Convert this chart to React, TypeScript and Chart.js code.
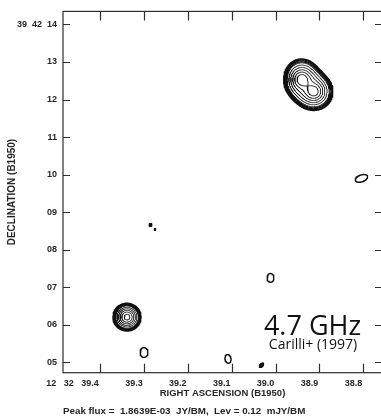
import { useEffect, useRef } from "react";
import { Chart, registerables } from "chart.js";

Chart.register(...registerables);

// ---- Axes (RA in seconds of 12h32m, Dec in arcsec of +39d42') ----
const raLeft = 39.4843;
const raRight = 38.7576;
const decTop = 14.348;
const decBottom = 4.725;
const decZeroDeg = 39.7;

const raTicks = [39.4, 39.3, 39.2, 39.1, 39.0, 38.9, 38.8];
const raTickLabels = ["12   32   39.4              ", "39.3", "39.2", "39.1", "39.0", "38.9", "38.8"];
const decTicks = [5, 6, 7, 8, 9, 10, 11, 12, 13, 14];
const decTickLabels = ["05", "06", "07", "08", "09", "10", "11", "12", "13", "39  42  14"];

const xTitle = "RIGHT ASCENSION (B1950)";
const yTitle = "DECLINATION (B1950)";
const footerText = "Peak flux =  1.8639E-03  JY/BM,  Lev = 0.12  mJY/BM";
const bandLabel = "4.7 GHz";
const citation = "Carilli+ (1997)";

// ---- Contour levels (multiples of 0.12 mJy/beam) ----
const baseLevel = 0.12;
const levelMultipliers = [1, 1.2, 1.41, 1.7, 2, 2.83, 4, 5.66, 8, 11.31];
const levelLineWidths = [1.4, 1.3, 1.2, 1.1, 1, 0.9, 0.9, 0.9, 0.9, 0.9];

// ---- Gaussian source components ----
const compRA = [38.9405, 38.9405, 38.9125, 38.9125, 39.3385, 39.3385, 38.8044, 39.0116, 39.1084, 39.2998, 39.285, 39.2747, 39.0321];
const compDec = [12.54, 12.54, 12.21, 12.21, 6.205, 6.205, 9.9, 7.25, 5.092, 5.262, 8.66, 8.54, 4.922];
const compPeak = [0.9, 0.86, 0.85, 0.8, 0.85, 0.75, 0.14, 0.14, 0.14, 0.14, 0.3, 0.14, 0.3];
const compMaj = [0.278, 0.64, 0.278, 0.6, 0.25, 0.452, 0.72, 0.49, 0.49, 0.55, 0.062, 0.09, 0.124];
const compMin = [0.278, 0.56, 0.278, 0.6, 0.25, 0.452, 0.385, 0.385, 0.34, 0.44, 0.062, 0.09, 0.062];
const compPA = [0, 0, 0, 0, 0, 0, -70, 0, 10, 0, 0, 0, -45];

const gridCols = 640;
const gridRows = 736;

const textColor = "#262626";
const frameColor = "#2e2e2e";
const contourColor = "#111111";

type Grid = { f: Float64Array; xs: Float64Array; ys: Float64Array; nx: number; ny: number };

function buildField(): Grid {
  const nx = gridCols, ny = gridRows;
  const xs = new Float64Array(nx);
  const ys = new Float64Array(ny);
  for (let i = 0; i < nx; i++) xs[i] = raRight + ((raLeft - raRight) * i) / (nx - 1);
  for (let j = 0; j < ny; j++) ys[j] = decBottom + ((decTop - decBottom) * j) / (ny - 1);
  const f = new Float64Array(nx * ny);
  const arcPerSec = 15 * Math.cos((decZeroDeg * Math.PI) / 180);
  for (let k = 0; k < compRA.length; k++) {
    const sMaj = compMaj[k] / 2.3548, sMin = compMin[k] / 2.3548;
    const th = (compPA[k] * Math.PI) / 180;
    const st = Math.sin(th), ct = Math.cos(th);
    const reach = 5 * Math.max(sMaj, sMin);
    const raReach = reach / arcPerSec;
    const i0 = Math.max(0, Math.floor(((compRA[k] - raReach - raRight) / (raLeft - raRight)) * (nx - 1)));
    const i1 = Math.min(nx - 1, Math.ceil(((compRA[k] + raReach - raRight) / (raLeft - raRight)) * (nx - 1)));
    const j0 = Math.max(0, Math.floor(((compDec[k] - reach - decBottom) / (decTop - decBottom)) * (ny - 1)));
    const j1 = Math.min(ny - 1, Math.ceil(((compDec[k] + reach - decBottom) / (decTop - decBottom)) * (ny - 1)));
    for (let j = j0; j <= j1; j++) {
      const dN = ys[j] - compDec[k];
      for (let i = i0; i <= i1; i++) {
        const dE = (xs[i] - compRA[k]) * arcPerSec;
        const u = dE * st + dN * ct;
        const v = dE * ct - dN * st;
        f[j * nx + i] += compPeak[k] * Math.exp(-0.5 * ((u * u) / (sMaj * sMaj) + (v * v) / (sMin * sMin)));
      }
    }
  }
  return { f, xs, ys, nx, ny };
}

const CASES: number[][] = [[], [3, 0], [0, 1], [3, 1], [1, 2], [], [0, 2], [3, 2], [2, 3], [0, 2], [], [1, 2], [3, 1], [0, 1], [3, 0], []];

function traceLevel(g: Grid, L: number): { x: number; y: number | null }[] {
  const { f, xs, ys, nx, ny } = g;
  const N = nx * ny;
  const pt = new Map<number, [number, number]>();
  const adj = new Map<number, number[]>();
  const segs: number[] = [];
  const link = (key: number, s: number) => {
    const a = adj.get(key);
    if (a) a.push(s);
    else adj.set(key, [s]);
  };
  for (let j = 0; j < ny - 1; j++) {
    for (let i = 0; i < nx - 1; i++) {
      const a = f[j * nx + i], b = f[j * nx + i + 1], c = f[(j + 1) * nx + i + 1], d = f[(j + 1) * nx + i];
      let idx = 0;
      if (a >= L) idx |= 1;
      if (b >= L) idx |= 2;
      if (c >= L) idx |= 4;
      if (d >= L) idx |= 8;
      if (idx === 0 || idx === 15) continue;
      let pairs: number[];
      const centre = (a + b + c + d) / 4;
      if (idx === 5) pairs = centre >= L ? [0, 1, 2, 3] : [3, 0, 1, 2];
      else if (idx === 10) pairs = centre >= L ? [3, 0, 1, 2] : [0, 1, 2, 3];
      else pairs = CASES[idx];
      const edge = (e: number): number => {
        let key: number, x: number, y: number, t: number;
        if (e === 0) { key = j * nx + i; t = (L - a) / (b - a); x = xs[i] + t * (xs[i + 1] - xs[i]); y = ys[j]; }
        else if (e === 1) { key = N + j * nx + i + 1; t = (L - b) / (c - b); x = xs[i + 1]; y = ys[j] + t * (ys[j + 1] - ys[j]); }
        else if (e === 2) { key = (j + 1) * nx + i; t = (L - d) / (c - d); x = xs[i] + t * (xs[i + 1] - xs[i]); y = ys[j + 1]; }
        else { key = N + j * nx + i; t = (L - a) / (d - a); x = xs[i]; y = ys[j] + t * (ys[j + 1] - ys[j]); }
        if (!pt.has(key)) pt.set(key, [x, y]);
        return key;
      };
      for (let p = 0; p < pairs.length; p += 2) {
        const k1 = edge(pairs[p]), k2 = edge(pairs[p + 1]);
        const s = segs.length / 2;
        segs.push(k1, k2);
        link(k1, s);
        link(k2, s);
      }
    }
  }
  const nSeg = segs.length / 2;
  const used = new Uint8Array(nSeg);
  const out: { x: number; y: number | null }[] = [];
  const walk = (start: number, acc: number[]) => {
    let cur = start;
    for (;;) {
      const list = adj.get(cur)!;
      let nxt = -1;
      for (const q of list) if (!used[q]) { nxt = q; break; }
      if (nxt < 0) break;
      used[nxt] = 1;
      cur = segs[2 * nxt] === cur ? segs[2 * nxt + 1] : segs[2 * nxt];
      acc.push(cur);
    }
  };
  for (let s = 0; s < nSeg; s++) {
    if (used[s]) continue;
    used[s] = 1;
    const fwd = [segs[2 * s], segs[2 * s + 1]];
    walk(segs[2 * s + 1], fwd);
    const back: number[] = [];
    walk(segs[2 * s], back);
    const keys = back.reverse().concat(fwd);
    for (const k of keys) {
      const p = pt.get(k)!;
      out.push({ x: p[0], y: p[1] });
    }
    const p0 = pt.get(keys[0])!;
    out.push({ x: p0[0], y: null });
  }
  return out;
}

const framePlugin = {
  id: "frameAndTicks",
  afterDraw(chart: any) {
    const { ctx, chartArea, scales } = chart;
    const { left, right, top, bottom } = chartArea;
    const x = scales.x, y = scales.y;
    ctx.save();
    ctx.strokeStyle = frameColor;
    ctx.lineWidth = 1.2;
    ctx.strokeRect(left, top, right - left, bottom - top);
    ctx.beginPath();
    for (const t of x.ticks) {
      const px = Math.round(x.getPixelForValue(t.value)) + 0.5;
      ctx.moveTo(px, top);
      ctx.lineTo(px, top + 9);
      ctx.moveTo(px, bottom);
      ctx.lineTo(px, bottom - 9);
    }
    for (const t of y.ticks) {
      const py = Math.round(y.getPixelForValue(t.value)) + 0.5;
      ctx.moveTo(left, py);
      ctx.lineTo(left + 7, py);
      ctx.moveTo(right, py);
      ctx.lineTo(right - 7, py);
    }
    ctx.stroke();
    ctx.fillStyle = "#111";
    ctx.textAlign = "center";
    ctx.textBaseline = "alphabetic";
    ctx.font = "27px 'Open Sans', 'Noto Sans', sans-serif";
    ctx.fillText(bandLabel, right - 69.5, bottom - 37.5);
    ctx.font = "14px 'Open Sans', 'Noto Sans', sans-serif";
    ctx.fillText(citation, right - 69, bottom - 23.5);
    ctx.restore();
  },
};

export default function App() {
  const ref = useRef<HTMLCanvasElement>(null);
  useEffect(() => {
    const canvas = ref.current!;
    const grid = buildField();
    const datasets = levelMultipliers.map((m, i) => ({
      data: traceLevel(grid, baseLevel * m),
      showLine: true,
      pointRadius: 0,
      borderWidth: levelLineWidths[i],
      borderColor: contourColor,
      borderCapStyle: "round" as const,
      borderJoinStyle: "round" as const,
      spanGaps: false,
      tension: 0,
    }));
    const labelFont = { family: "'Liberation Sans', Arial, sans-serif", size: 9, weight: "bold" as const };
    const chart = new Chart(canvas, {
      type: "scatter",
      data: { datasets },
      options: {
        animation: false,
        responsive: false,
        events: [],
        layout: { padding: { left: 0, top: 0, right: 2, bottom: 0 } },
        plugins: {
          legend: { display: false },
          tooltip: { enabled: false },
          title: {
            display: true,
            text: footerText,
            position: "bottom",
            align: "start",
            fullSize: false,
            color: textColor,
            font: { family: "'Liberation Sans', Arial, sans-serif", size: 9.8, weight: "bold", lineHeight: 1 },
            padding: { top: 0, bottom: 0 },
          },
        },
        scales: {
          x: {
            type: "linear",
            position: "bottom",
            reverse: true,
            min: raRight,
            max: raLeft,
            afterBuildTicks: (s: any) => { s.ticks = raTicks.map((v) => ({ value: v })); },
            afterFit: (s: any) => { s.height = 33.5; },
            grid: { display: false, drawTicks: false },
            border: { display: false },
            ticks: {
              autoSkip: false,
              maxRotation: 0,
              minRotation: 0,
              labelOffset: -10,
              padding: 5,
              color: textColor,
              font: labelFont,
              callback: (_v: any, i: number) => raTickLabels[i],
            },
            title: {
              display: true,
              text: xTitle,
              color: textColor,
              font: { family: "'Liberation Sans', Arial, sans-serif", size: 9.5, weight: "bold" },
              padding: { top: 0, bottom: 7.3 },
            },
          },
          y: {
            type: "linear",
            position: "left",
            min: decBottom,
            max: decTop,
            afterBuildTicks: (s: any) => { s.ticks = decTicks.map((v) => ({ value: v })); },
            afterFit: (s: any) => { s.width = 63; },
            grid: { display: false, drawTicks: false },
            border: { display: false },
            ticks: {
              autoSkip: false,
              padding: 6,
              color: textColor,
              font: labelFont,
              callback: (_v: any, i: number) => decTickLabels[i],
            },
            title: {
              display: true,
              text: yTitle,
              color: textColor,
              font: { family: "'Liberation Sans', Arial, sans-serif", size: 10, weight: "bold" },
              padding: { top: 6, bottom: 0 },
            },
          },
        },
      },
      plugins: [framePlugin],
    } as any);
    return () => chart.destroy();
  }, []);
  return (
    <div style={{ position: "fixed", left: 0, top: 0, width: 381, height: 416, overflow: "hidden", background: "#fff" }}>
      <canvas ref={ref} width={384} height={416} style={{ display: "block", width: 384, height: 416 }} />
    </div>
  );
}
